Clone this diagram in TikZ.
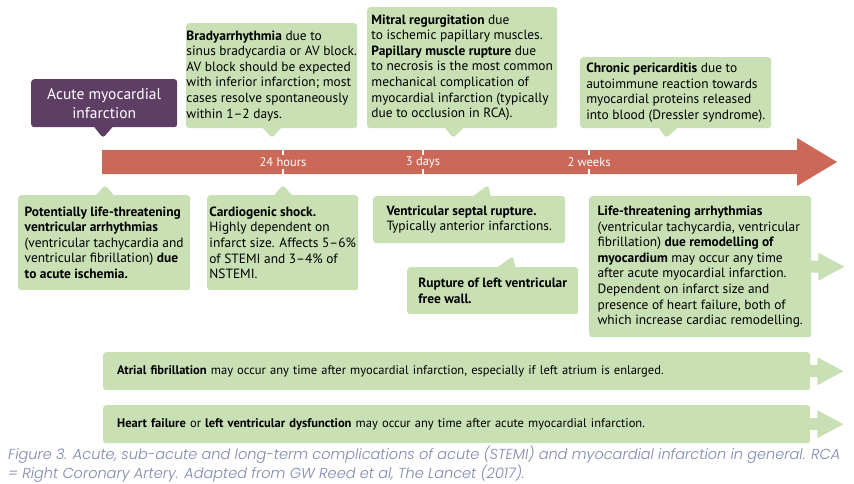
\documentclass[tikz,border=0pt]{standalone}
\usepackage{fontspec}
\setmainfont{PT Sans}
\newfontfamily\capfont{Poppins}[ItalicFont={Poppins Light Italic}]
\usepackage{tikz}
\usetikzlibrary{shapes.callouts}
\definecolor{boxgreen}{RGB}{200,224,180}
\definecolor{amipurple}{RGB}{95,62,102}
\definecolor{barred}{RGB}{204,104,88}
\definecolor{capblue}{RGB}{125,135,175}
\newcommand\sidearrow[1]{
  \fill[boxgreen] (#1.east) ++(-1,-6) -- ++(8,0) -- ++(0,-8) -- ++(26,14) -- ++(-26,14) -- ++(0,-8) -- ++(-8,0) -- cycle;
}

\begin{document}
\begin{tikzpicture}[x=1pt, y=-1pt, note/.style = {rectangle callout, fill=boxgreen, rounded corners=3pt, align=left, anchor=north west, inner sep=0pt, callout pointer width=18pt, font=\fontsize{13.4}{15.6}\selectfont}, wide/.style = {rectangle, fill=boxgreen, rounded corners=3pt, align=left, anchor=north west, inner ysep=0pt}, tick/.style = {text=white, font=\fontsize{12.5}{15}\selectfont}]
	\useasboundingbox (0,0) rectangle (854,483);
	\fill[barred] (102,150) -- (797,150) -- (797,138) -- (837,162) -- (797,186) -- (797,174) -- (102,174) -- cycle;
	\foreach \x/\t [count=\i] in {283/24 hours, 423/3 days, 589/2 weeks}{
		\draw[white, line width=1.5pt] (\x,150) -- (\x,155) (\x,169) -- (\x,174);
		\node[tick] (T\i) at (\x,162) {\t};
	}
	\node[note, fill=amipurple, text=white, align=center, minimum width=146pt, minimum height=48pt, callout absolute pointer={(103,138)}, font=\fontsize{15.5}{19}\selectfont] (A) at (31,79) {Acute myocardial\\infarction};
	\node[note, minimum width=171pt, minimum height=105pt, callout absolute pointer={(272,138)}] (B) at (186,23) {\textbf{Bradyarrhythmia} due to\\sinus bradycardia or AV block.\\AV block should be expected\\with inferior infarction; most\\cases resolve spontaneously\\within 1--2 days.};
	\node[note, minimum width=190pt, minimum height=121pt, callout absolute pointer={(453,138)}] (C) at (367,7) {\textbf{Mitral regurgitation} due\\to ischemic papillary muscles.\\\textbf{Papillary muscle rupture} due\\to necrosis is the most common\\mechanical complication of\\myocardial infarction (typically\\due to occlusion in RCA).};
	\node[note, minimum width=191pt, minimum height=71pt, callout absolute pointer={(666,138)}] (D) at (580,57) {\textbf{Chronic pericarditis} due to\\autoimmune reaction towards\\myocardial proteins released\\into blood (Dressler syndrome).};
	\node[note, minimum width=172pt, minimum height=95pt, callout absolute pointer={(105,185)}] (E) at (18,195) {\textbf{Potentially life-threatening}\\\textbf{ventricular arrhythmias}\\(ventricular tachycardia and\\ventricular fibrillation) \textbf{due}\\\textbf{to acute ischemia.}};
	\node[note, minimum width=151pt, minimum height=95pt, callout absolute pointer={(283,185)}] (F) at (207,195) {\textbf{Cardiogenic shock.}\\Highly dependent on\\infarct size. Affects 5--6\%\\of STEMI and 3--4\% of\\NSTEMI.};
	\node[note, minimum width=192pt, minimum height=47pt, callout absolute pointer={(488,185)}] (G) at (373,196) {\textbf{Ventricular septal rupture.}\\Typically anterior infarctions.};
	\node[note, minimum width=171pt, minimum height=47pt, callout absolute pointer={(513,256)}] (H) at (407,267) {\textbf{Rupture of left ventricular}\\\textbf{free wall.}};
	\node[wide, minimum width=222pt, minimum height=141pt, inner xsep=0pt, font=\fontsize{13.4}{15.6}\selectfont] (I) at (589,196) {\textbf{Life-threatening arrhythmias}\\(ventricular tachycardia, ventricular\\fibrillation) \textbf{due remodelling of}\\\textbf{myocardium} may occur any time\\after acute myocardial infarction.\\Dependent on infarct size and\\presence of heart failure, both of\\which increase cardiac remodelling.};
	\sidearrow{I}
	\node[wide, text width=679pt, inner xsep=14pt, minimum height=38pt, font=\fontsize{12.5}{14}\selectfont] (J) at (103,352) {\textbf{Atrial fibrillation} may occur any time after myocardial infarction, especially if left atrium is enlarged.};
	\sidearrow{J}
	\node[wide, text width=679pt, inner xsep=14pt, minimum height=38pt, font=\fontsize{12.5}{14}\selectfont] (K) at (103,405) {\textbf{Heart failure} or \textbf{left ventricular dysfunction} may occur any time after acute myocardial infarction.};
	\sidearrow{K}
	\node[anchor=north west, align=left, inner sep=0pt, text=capblue, font=\capfont\itshape\fontsize{14.5}{17}\selectfont] (cap) at (8,446) {Figure 3. Acute, sub-acute and long-term complications of acute (STEMI) and myocardial infarction in general. RCA\\= Right Coronary Artery. Adapted from GW Reed et al, The Lancet (2017).};
\end{tikzpicture}
\end{document}
